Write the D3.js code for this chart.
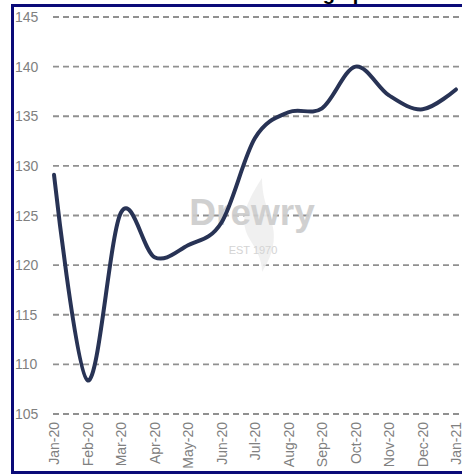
<!DOCTYPE html>
<html>
<head>
<meta charset="utf-8">
<script src="https://cdn.jsdelivr.net/npm/d3@7"></script>
<style>
  body { margin: 0; background: #fff; }
  svg { display: block; font-family: Arial, "Liberation Sans", sans-serif; }
</style>
</head>
<body>
<div id="main"></div>
<script>
var months = ["Jan-20", "Feb-20", "Mar-20", "Apr-20", "May-20", "Jun-20", "Jul-20",
              "Aug-20", "Sep-20", "Oct-20", "Nov-20", "Dec-20", "Jan-21"];
var values = [129.1, 108.4, 125.3, 120.8, 122.0, 124.3, 132.8,
              135.4, 135.8, 140.0, 137.1, 135.7, 137.7];
var yTicks = [105, 110, 115, 120, 125, 130, 135, 140, 145];

var W = 462, H = 475;
var svg = d3.select('#main').append('svg')
            .attr('width', W)
            .attr('height', H);

var x = d3.scalePoint()
          .domain(months)
          .range([54, 456]);

var y = d3.scaleLinear()
          .domain([105, 145])
          .range([414, 17]);

// title, mostly cut off above the window
svg.append('text')
   .attr('x', 365)
   .attr('y', 0)
   .attr('text-anchor', 'end')
   .attr('font-size', 20)
   .attr('font-weight', 'bold')
   .attr('fill', '#000')
   .text('Rates heading up');

// gridlines
svg.append('g')
   .selectAll('line')
   .data(yTicks)
   .join('line')
   .attr('x1', 53)
   .attr('x2', 460)
   .attr('y1', function(d) { return y(d); })
   .attr('y2', function(d) { return y(d); })
   .attr('stroke', '#909090')
   .attr('stroke-width', 1.8)
   .attr('stroke-dasharray', '6,4');

// y labels
svg.append('g')
   .selectAll('text')
   .data(yTicks)
   .join('text')
   .attr('x', 15)
   .attr('y', function(d) { return y(d); })
   .attr('dy', '0.36em')
   .attr('font-size', 14)
   .attr('fill', '#808080')
   .text(function(d) { return d; });

// x labels (rotated)
svg.append('g')
   .selectAll('text')
   .data(months)
   .join('text')
   .attr('transform', function(d) { return 'translate(' + (x(d) + 5) + ',422) rotate(-90)'; })
   .attr('text-anchor', 'end')
   .attr('font-size', 14)
   .attr('fill', '#808080')
   .text(function(d) { return d; });

// watermark
var wm = svg.append('g').attr('opacity', 0.9);
wm.append('path')
  .attr('d', 'M262,178 C248,200 238,218 249,238 C255,248 262,258 262,272 C271,258 278,240 271,220 C266,206 262,194 262,178 Z')
  .attr('fill', '#efefef');
wm.append('text')
  .attr('x', 252)
  .attr('y', 225)
  .attr('text-anchor', 'middle')
  .attr('font-size', 37)
  .attr('font-weight', 'bold')
  .attr('fill', '#cccccc')
  .text('Drewry');
wm.append('text')
  .attr('x', 253)
  .attr('y', 254)
  .attr('text-anchor', 'middle')
  .attr('font-size', 11)
  .attr('fill', '#d0d0d0')
  .text('EST 1970');

// series line
var line = d3.line()
             .x(function(d, i) { return x(months[i]); })
             .y(function(d) { return y(d); })
             .curve(d3.curveCardinal.tension(0));

svg.append('path')
   .datum(values)
   .attr('d', line)
   .attr('fill', 'none')
   .attr('stroke', '#283355')
   .attr('stroke-width', 4)
   .attr('stroke-linecap', 'round');

// frame
svg.append('rect')
   .attr('x', 12.5)
   .attr('y', 5.5)
   .attr('width', 470)
   .attr('height', 467)
   .attr('fill', 'none')
   .attr('stroke', '#0a0a78')
   .attr('stroke-width', 3);
</script>
</body>
</html>
